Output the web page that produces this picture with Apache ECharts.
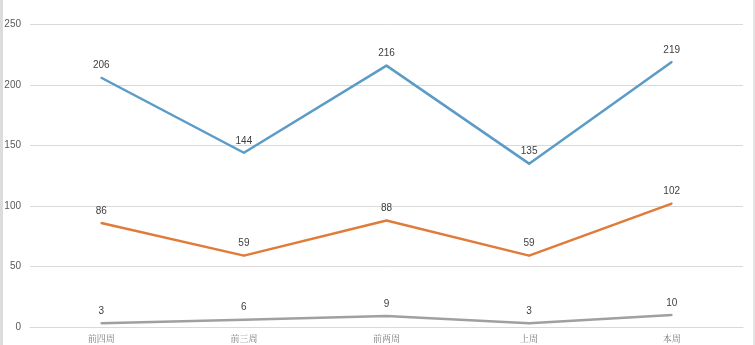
<!DOCTYPE html>
<html><head><meta charset="utf-8">
<script src="https://cdn.jsdelivr.net/npm/echarts@6/dist/echarts.min.js"></script>
<style>html,body{margin:0;padding:0;background:#fff}#c{width:755px;height:345px}</style>
</head><body><div id="c"></div>
<script>
const categories = ['前四周','前三周','前两周','上周','本周'];
const seriesBlue = [206,144,216,135,219];
const seriesOrange = [86,59,88,59,102];
const seriesGray = [3,6,9,3,10];
const yTicks = {min:0,max:250,interval:50};

const chart = echarts.init(document.getElementById('c'));
function mk(data,color){
  return {type:'line',data:data,symbol:'circle',symbolSize:2,showSymbol:true,showAllSymbol:true,smooth:false,
    lineStyle:{color:color,width:2.5},itemStyle:{color:color,borderWidth:0},
    label:{show:true,position:'top',distance:6,color:'#404040',fontSize:10,fontFamily:'Liberation Sans, Arial, sans-serif'}};
}
chart.setOption({
  animation:false,
  grid:{left:30,right:12,top:24.5,bottom:18,containLabel:false},
  xAxis:{type:'category',data:categories,boundaryGap:true,
    axisLine:{lineStyle:{color:'#d9d9d9'}},axisTick:{show:false},
    axisLabel:{color:'#7a7a7a',fontSize:9,margin:7,fontFamily:'Noto Serif CJK SC, Noto Sans CJK SC, serif'}},
  yAxis:{type:'value',min:yTicks.min,max:yTicks.max,interval:yTicks.interval,
    axisLine:{show:false},axisTick:{show:false},
    splitLine:{lineStyle:{color:'#d9d9d9',width:1}},
    axisLabel:{color:'#595959',fontSize:10,margin:9,fontFamily:'Liberation Sans, Arial, sans-serif'}},
  graphic:[
    {type:'rect',left:0,top:0,shape:{width:3,height:345},style:{fill:'#dcdcdc'}},
    {type:'rect',right:0,top:0,shape:{width:2,height:345},style:{fill:'#e4e4e4'}}
  ],
  series:[mk(seriesBlue,'#5b9bc8'),mk(seriesOrange,'#e07b39'),mk(seriesGray,'#a0a0a0')]
});
</script></body></html>
